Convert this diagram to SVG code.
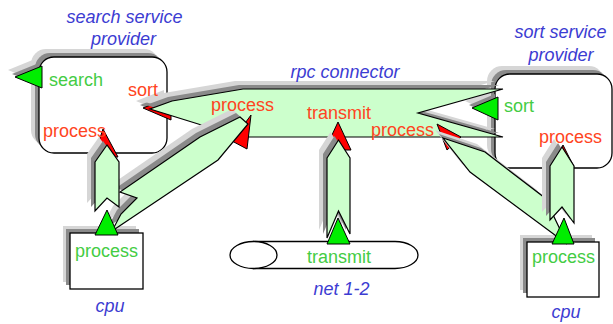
<svg xmlns="http://www.w3.org/2000/svg" width="613" height="324" viewBox="0 0 613 324">
<defs>
<style>
.sl{fill:#d6d6d6;stroke:none}
.sd{fill:#8a8a8a;stroke:none}
.box{fill:#fff;stroke:#000;stroke-width:1.3}
.con{fill:#ccffcc;stroke:#000;stroke-width:1.2;stroke-linejoin:miter}
.red{fill:#ff0000;stroke:#000;stroke-width:1}
.grn{fill:#00ee00;stroke:#000;stroke-width:1}
text{font-family:"Liberation Sans",Arial,sans-serif;font-size:18px}
.bl{fill:#3c3cd2;font-style:italic;text-anchor:middle}
.rt{fill:#ff4422}
.gt{fill:#44cc44}
</style>
<rect id="bSearch" x="39" y="57" width="128" height="96" rx="15"/>
<rect id="bSort" x="495" y="74" width="117" height="94" rx="15"/>
<rect id="bCpu1" x="70" y="233" width="73" height="56"/>
<rect id="bCpu2" x="527" y="242" width="72" height="55"/>
<polygon id="gSearch" points="15,77 42,66 42,88"/>
<polygon id="gSort" points="472,108 498,97 498,120"/>
<polygon id="gCpu1" points="107,210 95,235 118,235"/>
<polygon id="gNet" points="338,218 327,244 350,244"/>
<polygon id="gCpu2" points="564,218 552,244 574,244"/>
<polygon id="rSort" points="143,108 171,97 171,120"/>
<polygon id="rProcL" points="251,115 232,141 247,149"/>
<polygon id="rTrans" points="338,122 351,150 325,150"/>
<polygon id="rProcR" points="437,124 461,137 447,150"/>
<polygon id="rProcS" points="563,145 574,167 552,167"/>
<polygon id="rProcSe" points="103,129 118,157 94,156"/>
<polygon id="body" points="243,89 503,89 418,113 503,137 240,137 150,109 172,101"/>
<polygon id="armLD" points="240,117 200,137 120,192 137,198 121,214 112,231 218,160 248,124"/>
<polygon id="armRD" points="443,138 485,152 545,198 567,244 470,172"/>
<polygon id="armLV" points="95,162 107,145 119,162 119,207 107,198 95,211"/>
<polygon id="armT" points="327,158 338.5,140 350,158 350,234 338.5,211 327,238"/>
<polygon id="armRV" points="550,166 562,147 574,166 574,223 562,207 550,220"/>
</defs>

<g id="node-search-provider">
<use href="#bSearch" class="sl" transform="translate(-8,-8)"/>
<use href="#bSearch" class="sd" transform="translate(-4,-4)"/>
<use href="#bSearch" class="box"/>
<use href="#gSearch" class="sl" transform="translate(-7,-7)"/>
<use href="#gSearch" class="sd" transform="translate(-3,-3)"/>
<use href="#gSearch" class="grn"/>
<text class="bl" x="124.5" y="23">search service</text>
<text class="bl" x="123.5" y="45">provider</text>
<text class="gt" x="49" y="86">search</text>
</g>

<g id="node-sort-provider">
<use href="#bSort" class="sl" transform="translate(-8,-8)"/>
<use href="#bSort" class="sd" transform="translate(-4,-4)"/>
<use href="#bSort" class="box"/>
<use href="#gSort" class="sl" transform="translate(-7,-7)"/>
<use href="#gSort" class="sd" transform="translate(-3,-3)"/>
<use href="#gSort" class="grn"/>
<text class="bl" x="560.5" y="38">sort service</text>
<text class="bl" x="561" y="61">provider</text>
<text class="gt" x="504" y="112">sort</text>
</g>

<g id="node-cpu-left">
<use href="#bCpu1" class="sl" transform="translate(-7,-7)"/>
<use href="#bCpu1" class="sd" transform="translate(-4,-4)"/>
<use href="#bCpu1" class="box"/>
<text class="bl" x="110" y="312">cpu</text>
</g>

<g id="node-cpu-right">
<use href="#bCpu2" class="sl" transform="translate(-7,-7)"/>
<use href="#bCpu2" class="sd" transform="translate(-4,-4)"/>
<use href="#bCpu2" class="box"/>
<text class="bl" x="566" y="318">cpu</text>
</g>

<g id="node-net">
<path d="M253.5,241.5 H395 A23,13.5 0 0 1 395,268.5 H253.5 Z" class="box"/>
<ellipse cx="253.5" cy="255" rx="23.5" ry="13.5" class="box"/>
<text class="bl" x="341.5" y="295">net 1-2</text>
</g>

<g id="connectors">
<g id="rpc-connector">
<use href="#rSort" class="sl" transform="translate(-7,-7)"/>
<use href="#rSort" class="sd" transform="translate(-3,-3)"/>
<use href="#rSort" class="red"/>
<use href="#body" class="sl" transform="translate(-8,-8)"/>
<use href="#body" class="sd" transform="translate(-4,-4)"/>
<use href="#body" class="con"/>
<use href="#rProcL" class="red"/>
<use href="#rTrans" class="red"/>
<use href="#rProcR" class="red"/>
<use href="#rProcS" class="red"/>
<use href="#rProcSe" class="red"/>
<text class="bl" x="345" y="78">rpc connector</text>
</g>
<g id="arm-left-diagonal">
<use href="#armLD" class="sl" transform="translate(-8,-8)"/>
<use href="#armLD" class="sd" transform="translate(-4,-4)"/>
<use href="#armLD" class="con"/>
</g>
<g id="arm-right-diagonal">
<use href="#armRD" class="sl" transform="translate(-8,-8)"/>
<use href="#armRD" class="sd" transform="translate(-4,-4)"/>
<use href="#armRD" class="con"/>
</g>
<g id="arm-left-vertical">
<use href="#armLV" class="sl" transform="translate(-8,-8)"/>
<use href="#armLV" class="sd" transform="translate(-4,-4)"/>
<use href="#armLV" class="con"/>
</g>
<g id="arm-transmit">
<use href="#armT" class="sl" transform="translate(-8,-8)"/>
<use href="#armT" class="sd" transform="translate(-4,-4)"/>
<use href="#armT" class="con"/>
</g>
<g id="arm-right-vertical">
<use href="#armRV" class="sl" transform="translate(-8,-8)"/>
<use href="#armRV" class="sd" transform="translate(-4,-4)"/>
<use href="#armRV" class="con"/>
</g>
</g>

<g id="ports">
<use href="#gCpu1" class="grn"/>
<use href="#gNet" class="grn"/>
<use href="#gCpu2" class="grn"/>
</g>

<g id="labels">
<text class="rt" x="128" y="96">sort</text>
<text class="rt" x="43" y="137">process</text>
<text class="rt" x="211" y="111">process</text>
<text class="rt" x="307" y="119">transmit</text>
<text class="rt" x="371" y="136">process</text>
<text class="rt" x="539" y="143">process</text>
<text class="gt" x="75" y="257">process</text>
<text class="gt" x="307" y="263">transmit</text>
<text class="gt" x="532" y="263">process</text>
</g>
</svg>
